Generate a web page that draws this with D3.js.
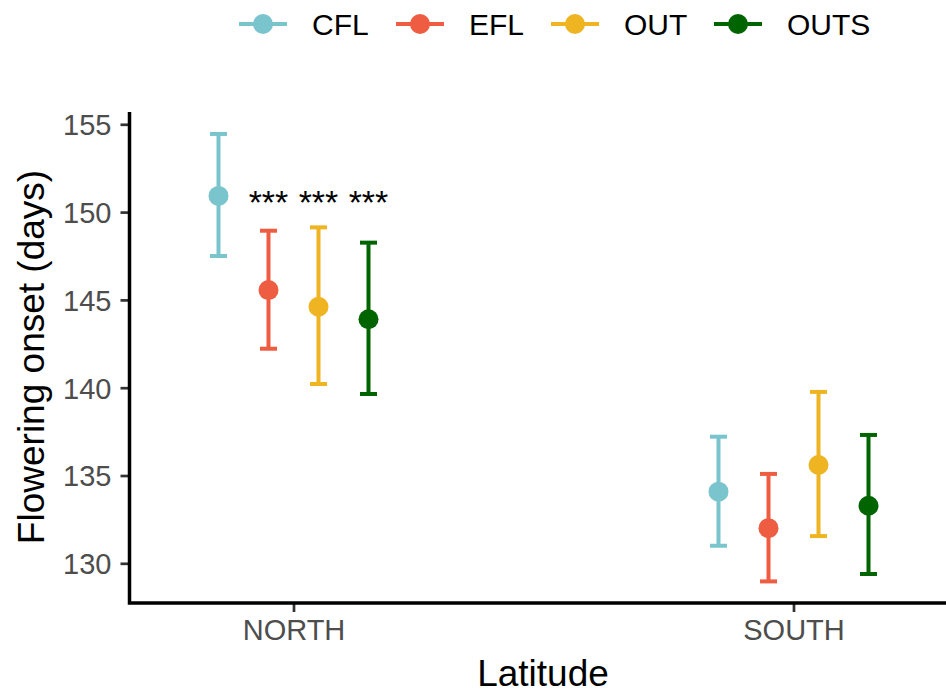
<!DOCTYPE html>
<html>
<head>
<meta charset="utf-8">
<script src="https://cdn.jsdelivr.net/npm/d3@7"></script>
<style>
  body { margin: 0; background: #fff; }
  text { font-family: "Liberation Sans", Arial, sans-serif; }
</style>
</head>
<body>
<div id="chart"></div>
<script>
// data
let latitudes = ["NORTH", "SOUTH"];
let treatments = ["CFL", "EFL", "OUT", "OUTS"];
let colors = ["#7AC5CD", "#EE5C42", "#EEB422", "#006400"];
// means per latitude, in treatment order
let meanNorth = [150.92, 145.56, 144.61, 143.90];
let meanSouth = [134.08, 132.00, 135.60, 133.28];
let lowNorth = [147.50, 142.22, 140.21, 139.64];
let highNorth = [154.45, 148.94, 149.13, 148.26];
let lowSouth = [131.00, 128.97, 131.55, 129.39];
let highSouth = [137.21, 135.09, 139.76, 137.31];
let yTicks = [130, 135, 140, 145, 150, 155];
let stars = ["***", "***", "***"];
let starTreatments = ["EFL", "OUT", "OUTS"];
let starValue = 150.92;

let width = 946, height = 693;
let margin = {top: 112, right: 0, bottom: 90, left: 129.5};

let rows = [];
latitudes.forEach(function(lat, li) {
    treatments.forEach(function(t, ti) {
        rows.push({
            lat: lat,
            trt: t,
            mean: li == 0 ? meanNorth[ti] : meanSouth[ti],
            lo: li == 0 ? lowNorth[ti] : lowSouth[ti],
            hi: li == 0 ? highNorth[ti] : highSouth[ti],
            color: colors[ti]
        });
    });
});

let svg = d3.select("#chart")
    .append("svg")
    .attr("width", width)
    .attr("height", height);

// scales
let x = d3.scalePoint()
    .domain(latitudes)
    .range([293.5, 793.5]);
let dodge = d3.scalePoint()
    .domain(treatments)
    .range([-75, 75]);
let y = d3.scaleLinear()
    .domain([127.74, 155.70])
    .range([height - margin.bottom, margin.top]);

// y axis
let yAxis = svg.append("g")
    .attr("transform", "translate(" + margin.left + ",0)")
    .call(d3.axisLeft(y).tickValues(yTicks).tickSize(9).tickPadding(9).tickFormat(d3.format("d")));
yAxis.select(".domain").remove();
yAxis.selectAll(".tick line").attr("stroke", "#333").attr("stroke-width", 2.7);
yAxis.selectAll(".tick text")
    .attr("fill", "#4D4D4D")
    .style("font-size", "29px")
    .attr("dy", "0.36em");

// x axis
let xAxis = svg.append("g")
    .attr("transform", "translate(0," + (height - margin.bottom) + ")")
    .call(d3.axisBottom(x).tickSize(9).tickPadding(7));
xAxis.select(".domain").remove();
xAxis.selectAll(".tick line").attr("stroke", "#333").attr("stroke-width", 2.7);
xAxis.selectAll(".tick text")
    .attr("fill", "#4D4D4D")
    .style("font-size", "29px")
    .attr("dy", "0.72em");

// axis lines
svg.append("path")
    .attr("d", "M" + margin.left + "," + margin.top + "V" + (height - margin.bottom) + "H" + width)
    .attr("fill", "none")
    .attr("stroke", "#000")
    .attr("stroke-width", 3.5);

// axis titles
svg.append("text")
    .attr("x", 543)
    .attr("y", 686)
    .attr("text-anchor", "middle")
    .style("font-size", "37px")
    .attr("fill", "#000")
    .text("Latitude");
svg.append("text")
    .attr("transform", "translate(44," + 357 + ") rotate(-90)")
    .attr("text-anchor", "middle")
    .style("font-size", "37px")
    .attr("fill", "#000")
    .text("Flowering onset (days)");

// error bars
let capW = 8.5;
let bars = svg.append("g")
    .selectAll("g")
    .data(rows)
    .enter()
    .append("g")
    .attr("stroke", function(d) { return d.color; })
    .attr("stroke-width", 4);
bars.append("line")
    .attr("x1", function(d) { return x(d.lat) + dodge(d.trt); })
    .attr("x2", function(d) { return x(d.lat) + dodge(d.trt); })
    .attr("y1", function(d) { return y(d.lo); })
    .attr("y2", function(d) { return y(d.hi); });
bars.append("line")
    .attr("x1", function(d) { return x(d.lat) + dodge(d.trt) - capW; })
    .attr("x2", function(d) { return x(d.lat) + dodge(d.trt) + capW; })
    .attr("y1", function(d) { return y(d.lo); })
    .attr("y2", function(d) { return y(d.lo); });
bars.append("line")
    .attr("x1", function(d) { return x(d.lat) + dodge(d.trt) - capW; })
    .attr("x2", function(d) { return x(d.lat) + dodge(d.trt) + capW; })
    .attr("y1", function(d) { return y(d.hi); })
    .attr("y2", function(d) { return y(d.hi); });

// points
svg.append("g")
    .selectAll("circle")
    .data(rows)
    .enter()
    .append("circle")
    .attr("cx", function(d) { return x(d.lat) + dodge(d.trt); })
    .attr("cy", function(d) { return y(d.mean); })
    .attr("r", 10)
    .attr("fill", function(d) { return d.color; });

// significance stars
svg.append("g")
    .selectAll("text")
    .data(stars)
    .enter()
    .append("text")
    .attr("x", function(d, i) { return x("NORTH") + dodge(starTreatments[i]); })
    .attr("y", y(starValue) + 18.5)
    .attr("text-anchor", "middle")
    .style("font-size", "34px")
    .attr("fill", "#000")
    .text(function(d) { return d; });

// legend
let legendX = [239, 396, 551, 714];
let legend = svg.append("g")
    .selectAll("g")
    .data(treatments)
    .enter()
    .append("g")
    .attr("transform", function(d, i) { return "translate(" + legendX[i] + ",24)"; });
legend.append("line")
    .attr("x1", 0).attr("x2", 48)
    .attr("stroke", function(d, i) { return colors[i]; })
    .attr("stroke-width", 4);
legend.append("circle")
    .attr("cx", 24)
    .attr("r", 10)
    .attr("fill", function(d, i) { return colors[i]; });
legend.append("text")
    .attr("x", 73)
    .attr("y", 11)
    .style("font-size", "30px")
    .attr("fill", "#000")
    .text(function(d) { return d; });
</script>
</body>
</html>
